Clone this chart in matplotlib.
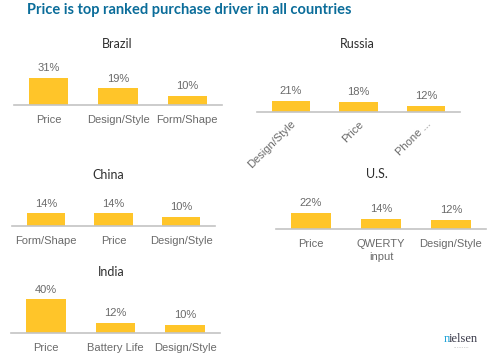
import matplotlib.pyplot as plt

# Data per country
brazil_labels = ['Price', 'Design/Style', 'Form/Shape']
brazil_vals = [31, 19, 10]
russia_labels = ['Design/Style', 'Price', 'Phone ...']
russia_vals = [21, 18, 12]
china_labels = ['Form/Shape', 'Price', 'Design/Style']
china_vals = [14, 14, 10]
us_labels = ['Price', 'QWERTY\ninput', 'Design/Style']
us_vals = [22, 14, 12]
india_labels = ['Price', 'Battery Life', 'Design/Style']
india_vals = [40, 12, 10]

W, H = 500, 357
BAR = '#FFC529'
GRAY = '#6a6a6a'

fig = plt.figure(figsize=(W / 100, H / 100), dpi=100)
fig.patch.set_facecolor('white')


def panel(name, labels, vals, left, right, base, scale, tx, ty, rot=False):
    h = 45
    ax = fig.add_axes([left / W, 1 - base / H, (right - left) / W, h / H])
    ax.bar(range(len(vals)), vals, width=0.57, color=BAR)
    ax.set_xlim(-0.5, len(vals) - 0.5)
    ax.set_ylim(0, h / scale)
    for s in ['top', 'right', 'left']:
        ax.spines[s].set_visible(False)
    ax.spines['bottom'].set_color('#c4c4c4')
    ax.spines['bottom'].set_linewidth(1.2)
    ax.set_yticks([])
    ax.set_xticks(range(len(vals)))
    if rot:
        ax.set_xticklabels(labels, rotation=45, ha='right', rotation_mode='anchor',
                           fontsize=8, color=GRAY, family='Liberation Sans')
        ax.tick_params(axis='x', length=0, pad=5)
    else:
        ax.set_xticklabels(labels, fontsize=8, color=GRAY, family='Liberation Sans',
                           linespacing=1.35)
        ax.tick_params(axis='x', length=0, pad=7)
    for i, v in enumerate(vals):
        ax.annotate(f'{v}%', (i, v), xytext=(0, 3.5), textcoords='offset points',
                    ha='center', va='bottom', fontsize=8, color=GRAY,
                    family='Liberation Sans')
    fig.text(tx / W, 1 - ty / H, name, ha='center', va='center', fontsize=9,
             color='#2e2e2e', family='Lato')


panel('Brazil', brazil_labels, brazil_vals, 14, 222, 105, 0.87, 117, 44)
panel('Russia', russia_labels, russia_vals, 257, 460, 112, 0.54, 357, 44, rot=True)
panel('China', china_labels, china_vals, 12, 215, 226, 0.9, 108, 175)
panel('U.S.', us_labels, us_vals, 276, 486, 229, 0.75, 377, 174)
panel('India', india_labels, india_vals, 11, 220, 333, 0.84, 111, 272)

fig.text(27 / W, 1 - 10 / H, 'Price is top ranked purchase driver in all countries',
         ha='left', va='center', fontsize=10.5, fontweight='bold', color='#0b6d9a',
         family='Lato')

# nielsen logo
fig.text(444 / W, 1 - 342 / H, 'n', ha='left', va='baseline', fontsize=9,
         color='#1fa3d8', family='Liberation Serif')
fig.text(449 / W, 1 - 342 / H, 'ielsen', ha='left', va='baseline', fontsize=9,
         color='#3a3a4a', family='Liberation Serif')
fig.text(461 / W, 1 - 348 / H, '·········', ha='center', va='center', fontsize=4,
         color='#999999')

plt.savefig('out.png', dpi=100)
